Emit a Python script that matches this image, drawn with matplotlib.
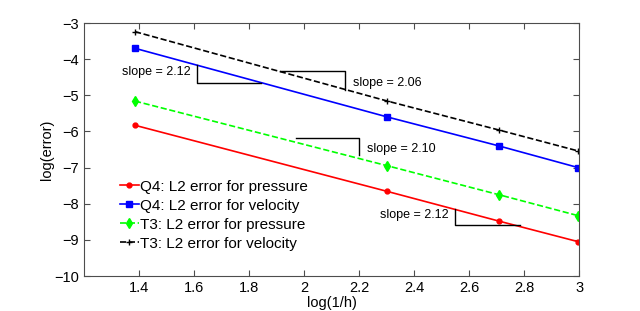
import matplotlib.pyplot as plt

plt.rcParams['font.family'] = ['Liberation Sans', 'DejaVu Sans']

# Data
log_inv_h = [1.386, 2.303, 2.708, 2.996]
q4_pressure = [-5.83, -7.66, -8.48, -9.05]
q4_velocity = [-3.70, -5.60, -6.40, -7.00]
t3_pressure = [-5.16, -6.95, -7.75, -8.33]
t3_velocity = [-3.24, -5.16, -5.96, -6.54]

# slope triangles: (x0, x1, y_top, y_bottom, corner, label)
triangles = [
    (1.613, 1.844, -4.17, -4.66, 'left', 'slope = 2.12'),
    (1.913, 2.149, -4.34, -4.86, 'right', 'slope = 2.06'),
    (1.971, 2.200, -6.19, -6.66, 'right', 'slope = 2.10'),
    (2.550, 2.785, -8.14, -8.60, 'left', 'slope = 2.12'),
]

fig = plt.figure(figsize=(6.4, 3.11), dpi=100)
ax = fig.add_axes([0.131, 0.1125, 0.774, 0.8135])

ax.plot(log_inv_h, q4_pressure, '-', color='r', marker='.', markersize=7, lw=1.2,
        label='Q4: L2 error for pressure')
ax.plot(log_inv_h, q4_velocity, '-', color='b', marker='s', markersize=4, lw=1.2,
        label='Q4: L2 error for velocity')
ax.plot(log_inv_h, t3_pressure, '--', color=(0, 1, 0), marker='d', markersize=5, lw=1.2,
        label='T3: L2 error for pressure')
ax.plot(log_inv_h, t3_velocity, '--', color='k', marker='+', markersize=5, lw=1.2,
        label='T3: L2 error for velocity')

for x0, x1, yt, yb, corner, txt in triangles:
    if corner == 'left':
        ax.plot([x0, x0, x1], [yt, yb, yb], color='k', lw=1)
        ax.text(x0 - 0.025, (yt + yb) / 2 + 0.05, txt, ha='right', va='center', fontsize=9)
    else:
        ax.plot([x0, x1, x1], [yt, yt, yb], color='k', lw=1)
        ax.text(x1 + 0.03, (yt + yb) / 2 - 0.05, txt, ha='left', va='center', fontsize=9)

ax.set_xlim(1.2, 3)
ax.set_ylim(-10, -3)
ax.set_xticks([1.4, 1.6, 1.8, 2, 2.2, 2.4, 2.6, 2.8, 3])
ax.set_xticklabels(['1.4', '1.6', '1.8', '2', '2.2', '2.4', '2.6', '2.8', '3'])
ax.set_yticks(range(-10, -2))
ax.set_yticklabels(['\u221210', '\u22129', '\u22128', '\u22127', '\u22126', '\u22125', '\u22124', '\u22123'])
ax.tick_params(direction='in', top=True, right=True, labelsize=10.5, length=4, color='0.3')
for s in ax.spines.values():
    s.set_color('0.3')
ax.set_xlabel('log(1/h)', fontsize=10.5, labelpad=1)
ax.set_ylabel('log(error)', fontsize=10.5, labelpad=0)
ax.legend(loc='lower left', bbox_to_anchor=(0.06, 0.076), frameon=False, fontsize=11,
          handlelength=1.25, handletextpad=0.1, labelspacing=0.33, borderaxespad=0.0)

plt.savefig('out.png', dpi=100)
